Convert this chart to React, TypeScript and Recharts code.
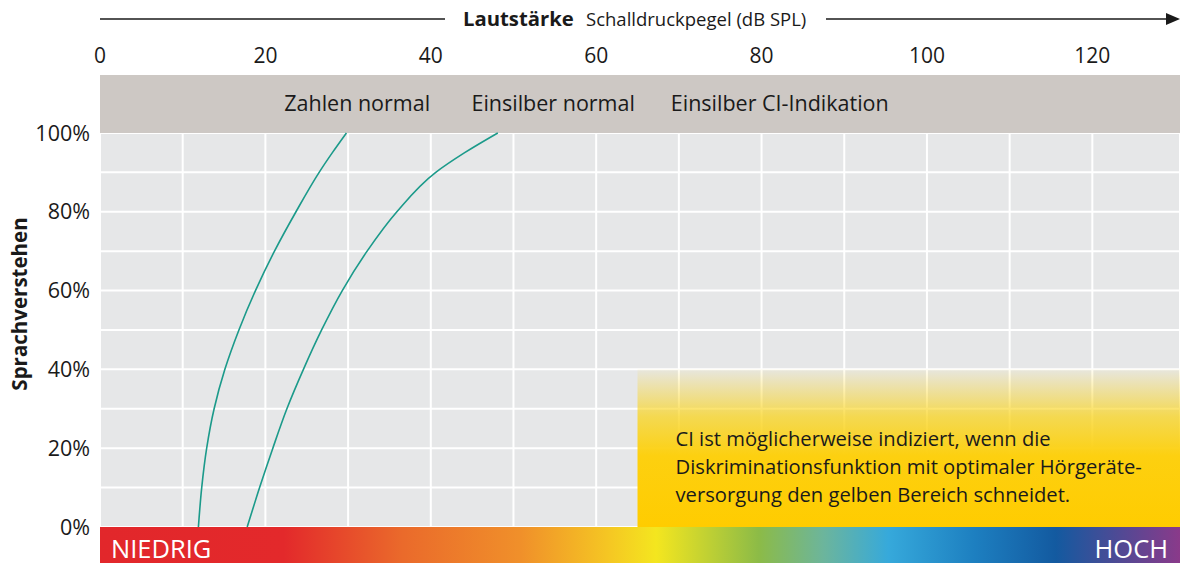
import React from "react";
import {
  LineChart,
  Line,
  XAxis,
  YAxis,
  CartesianGrid,
  ReferenceArea,
  ReferenceDot,
} from "recharts";

// level in dB SPL at each step of speech understanding (%)
const pctSteps = [0, 10, 20, 30, 40, 50, 60, 70, 80, 90, 95, 100];
const zahlenNormal = [11.9, 12.3, 12.9, 13.8, 15.1, 16.8, 18.8, 21.1, 23.7, 26.5, 28.1, 29.8];
const einsilberNormal = [17.8, 19.3, 20.9, 22.6, 24.6, 26.8, 29.3, 32.3, 35.9, 40.6, 44.1, 48.1];

const xTicks = [0, 10, 20, 30, 40, 50, 60, 70, 80, 90, 100, 110, 120];
const yTicks = [0, 10, 20, 30, 40, 50, 60, 70, 80, 90, 100];

const headerLabels = ["Zahlen normal", "Einsilber normal", "Einsilber CI-Indikation"];
const headerCenters = [31.1, 54.8, 82.2];

const ciText = [
  "CI ist möglicherweise indiziert, wenn die",
  "Diskriminationsfunktion mit optimaler Hörgeräte-",
  "versorgung den gelben Bereich schneidet.",
];

const X_MAX = 130.6;
const Y_MIN = -9.14;
const Y_MAX = 114.7;
const HEADER_MID = 107.4;
const CI_X = 65;
const CI_Y = 40;

const FONT = "'Open Sans', 'Noto Sans', sans-serif";
const TEAL = "#1b9a8a";

const curveA = pctSteps.map((p, i) => ({ x: zahlenNormal[i], y: p }));
const curveB = pctSteps.map((p, i) => ({ x: einsilberNormal[i], y: p }));

const TitleLabel = () => (
  <g fontFamily={FONT} fill="#1a1a1a">
    <line x1={100} y1={19} x2={445} y2={19} stroke="#1a1a1a" strokeWidth={1.3} />
    <text x={463} y={26} fontSize={20.3} fontWeight={700}>Lautstärke</text>
    <text x={586} y={25.5} fontSize={18.5}>Schalldruckpegel (dB SPL)</text>
    <line x1={826} y1={19} x2={1168} y2={19} stroke="#1a1a1a" strokeWidth={1.3} />
    <path d="M1166,13 L1180,19 L1166,25 Z" fill="#1a1a1a" />
  </g>
);

const YTitle = () => (
  <text
    x={27}
    y={304}
    transform="rotate(-90 27 304)"
    textAnchor="middle"
    fontFamily={FONT}
    fontSize={20.5}
    fontWeight={700}
    fill="#1a1a1a"
  >
    Sprachverstehen
  </text>
);

const CiLabel = (props: any) => {
  const vb = props.viewBox || {};
  return (
    <text fontFamily={FONT} fontSize={20.2} fill="#1a1a1a">
      {ciText.map((t, i) => (
        <tspan key={i} x={vb.x + 38} y={vb.y + 77 + i * 28}>
          {t}
        </tspan>
      ))}
    </text>
  );
};

const BarLabel = (props: any) => {
  const vb = props.viewBox || {};
  const base = vb.y + vb.height - 5;
  return (
    <g fontFamily={FONT} fontSize={25.5} fill="#ffffff">
      <text x={vb.x + 11} y={base}>NIEDRIG</text>
      <text x={vb.x + vb.width - 12} y={base} textAnchor="end">HOCH</text>
    </g>
  );
};

export default function App() {
  return (
    <div style={{ position: "absolute", left: 0, top: 0, width: 1181, height: 568, background: "#fff" }}>
      <LineChart
        width={1181}
        height={568}
        margin={{ top: 15, right: 1, bottom: 5, left: 0 }}
      >
        <defs>
          <linearGradient id="ciFade" x1="0" y1="0" x2="0" y2="1">
            <stop offset="0" stopColor="#fbd31c" stopOpacity={0.05} />
            <stop offset="0.3" stopColor="#f9d41e" stopOpacity={0.75} />
            <stop offset="0.55" stopColor="#fdd010" stopOpacity={1} />
            <stop offset="1" stopColor="#ffcc00" stopOpacity={1} />
          </linearGradient>
          <linearGradient id="rainbow" x1="0" y1="0" x2="1" y2="0">
            <stop offset="0" stopColor="#e2272b" />
            <stop offset="0.17" stopColor="#e3292b" />
            <stop offset="0.28" stopColor="#ea6a2b" />
            <stop offset="0.39" stopColor="#f0902a" />
            <stop offset="0.47" stopColor="#f5c623" />
            <stop offset="0.515" stopColor="#f4e61f" />
            <stop offset="0.61" stopColor="#8cbb47" />
            <stop offset="0.67" stopColor="#6cb59c" />
            <stop offset="0.73" stopColor="#36a9db" />
            <stop offset="0.81" stopColor="#1d7fc0" />
            <stop offset="0.885" stopColor="#135aa0" />
            <stop offset="1" stopColor="#8a3a8a" />
          </linearGradient>
        </defs>
        <CartesianGrid fill="#e6e7e8" stroke="#ffffff" strokeWidth={2} />
        <XAxis
          type="number"
          dataKey="x"
          orientation="top"
          domain={[0, X_MAX]}
          ticks={xTicks}
          tickFormatter={(v: number) => (v % 20 === 0 ? String(v) : "")}
          axisLine={false}
          tickLine={false}
          tickSize={0}
          tickMargin={12}
          height={60}
          allowDataOverflow
          tick={{ fontFamily: FONT, fontSize: 21, fill: "#1a1a1a" }}
          label={{ content: () => <TitleLabel /> }}
        />
        <YAxis
          type="number"
          dataKey="y"
          domain={[Y_MIN, Y_MAX]}
          ticks={yTicks}
          tickFormatter={(v: number) => (v % 20 === 0 ? `${v}%` : "")}
          axisLine={false}
          tickLine={false}
          tickSize={0}
          tickMargin={10}
          width={100}
          allowDataOverflow
          tick={{ fontFamily: FONT, fontSize: 21.5, fill: "#1a1a1a" }}
          label={{ content: () => <YTitle /> }}
        />
        <ReferenceArea x1={0} x2={X_MAX} y1={100} y2={Y_MAX} fill="#cdc8c4" fillOpacity={1} stroke="none" />
        <ReferenceArea
          x1={CI_X}
          x2={X_MAX}
          y1={0}
          y2={CI_Y}
          fill="url(#ciFade)"
          fillOpacity={1}
          stroke="none"
          label={<CiLabel />}
        />
        <ReferenceArea
          x1={0}
          x2={X_MAX}
          y1={Y_MIN}
          y2={0}
          fill="url(#rainbow)"
          fillOpacity={1}
          stroke="none"
          label={<BarLabel />}
        />
        {headerLabels.map((t, i) => (
          <ReferenceDot
            key={t}
            x={headerCenters[i]}
            y={HEADER_MID}
            r={0}
            fill="none"
            stroke="none"
            label={{ value: t, position: "center", fontFamily: FONT, fontSize: 21.5, fill: "#1a1a1a" }}
          />
        ))}
        {/* monotoneY: level is interpolated as a function of percent */}
        <Line
          data={curveA}
          dataKey="y"
          type="monotoneY"
          stroke={TEAL}
          strokeWidth={1.6}
          dot={false}
          activeDot={false}
          isAnimationActive={false}
        />
        <Line
          data={curveB}
          dataKey="y"
          type="monotoneY"
          stroke={TEAL}
          strokeWidth={1.6}
          dot={false}
          activeDot={false}
          isAnimationActive={false}
        />
      </LineChart>
    </div>
  );
}
